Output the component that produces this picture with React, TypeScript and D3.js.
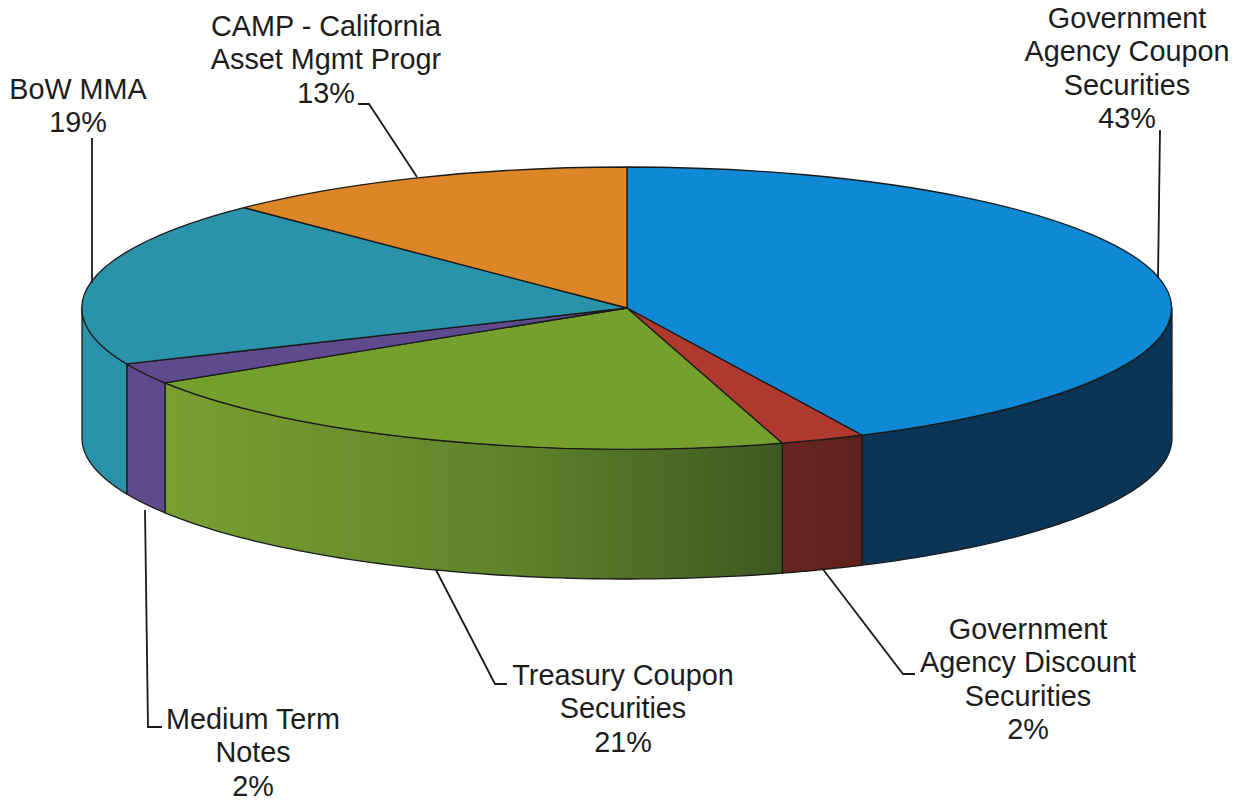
import React from "react";
import * as d3 from "d3";

const categories = [
  "Government Agency Coupon Securities",
  "Government Agency Discount Securities",
  "Treasury Coupon Securities",
  "Medium Term Notes",
  "BoW MMA",
  "CAMP - California Asset Mgmt Progr",
];
const shares = [42.9, 2.5, 20.7, 2.4, 19.1, 12.4];
const topColors = ["#1089d5", "#b03a30", "#76a02e", "#5e4a8c", "#2a93a9", "#dd8628"];
const wallFrom = ["#0b3556", "#67241f", "#7a9f30", "#5e4a8c", "#2a93a9", "#dd8628"];
const wallMid = ["#0b3556", "#63231e", "#5f842b", "#5e4a8c", "#2a93a9", "#dd8628"];
const wallTo = ["#0b3556", "#5f211d", "#3c5a20", "#5e4a8c", "#2a93a9", "#dd8628"];

const labelLines = [
  ["Government", "Agency Coupon", "Securities", "43%"],
  ["Government", "Agency Discount", "Securities", "2%"],
  ["Treasury Coupon", "Securities", "21%"],
  ["Medium Term", "Notes", "2%"],
  ["BoW MMA", "19%"],
  ["CAMP - California", "Asset Mgmt Progr", "13%"],
];
const labelCenterX = [1127, 1028, 623, 253, 78, 326];
const labelFirstBaseline = [28, 639, 685, 729, 99, 36];
const leaders: [number, number][][] = [
  [[1160, 130], [1158, 278]],
  [[822, 568], [903, 674], [915, 674]],
  [[436, 570], [495, 684], [507, 684]],
  [[145, 510], [148, 727], [162, 727]],
  [[92, 138], [92, 283]],
  [[358, 104], [369, 104], [417, 177]],
];

const W = 1240, H = 801;
const cx = 627, cy = 308, rx = 545, ry = 141, depth = 130;
const lineStep = 33.4;

const pie = d3.pie<number>().sort(null).value((d) => d);
const arcs = pie(shares);
const xS = d3.scaleLinear().domain([-1, 1]).range([cx - rx, cx + rx]);
const yS = d3.scaleLinear().domain([-1, 1]).range([cy - ry, cy + ry]);
const unitArc = d3.arc<d3.PieArcDatum<number>>().innerRadius(0).outerRadius(1);
const px = (t: number) => xS(Math.sin(t));
const py = (t: number) => yS(-Math.cos(t));
const line = d3.line();

function wall(a0: number, a1: number): string | null {
  const s = Math.max(a0, Math.PI / 2);
  const e = Math.min(a1, (3 * Math.PI) / 2);
  if (e <= s) return null;
  const ts = d3.range(0, 61).map((i) => s + ((e - s) * i) / 60);
  const topPts = ts.map((t) => [px(t), py(t)] as [number, number]);
  const botPts = ts.map((t) => [px(t), py(t) + depth] as [number, number]).reverse();
  return line([...topPts, ...botPts]) + "Z";
}

export default function App() {
  return (
    <svg
      width={W}
      height={H}
      viewBox={`0 0 ${W} ${H}`}
      style={{ position: "absolute", left: 0, top: 0, background: "#fff" }}
    >
      <defs>
        {arcs.map((d, i) => (
          <linearGradient key={i} id={`w${i}`} gradientUnits="userSpaceOnUse"
            x1={px(Math.min(d.endAngle, 1.5 * Math.PI))} x2={px(Math.max(d.startAngle, Math.PI / 2))} y1={0} y2={0}>
            <stop offset="0" stopColor={wallFrom[i]} />
            <stop offset="0.55" stopColor={wallMid[i]} />
            <stop offset="1" stopColor={wallTo[i]} />
          </linearGradient>
        ))}
      </defs>
      <g stroke="#1a1a1a" strokeWidth={1.3} strokeLinejoin="round">
        {arcs.map((d, i) => {
          const p = wall(d.startAngle, d.endAngle);
          return p ? <path key={i} d={p} fill={`url(#w${i})`} aria-label={categories[i]} /> : null;
        })}
        {arcs.map((d, i) => (
          <path
            key={i}
            d={unitArc(d) as string}
            transform={`translate(${cx},${cy}) scale(${rx},${ry})`}
            fill={topColors[i]}
            vectorEffect="non-scaling-stroke"
          />
        ))}
      </g>
      <g fill="none" stroke="#1a1a1a" strokeWidth={1.8}>
        {leaders.map((l, i) => (
          <path key={i} d={line(l) as string} />
        ))}
      </g>
      <g fontFamily="Liberation Sans, Arial, sans-serif" fontSize={28.8} fill="#1c1c1c" textAnchor="middle">
        {labelLines.map((lines, i) => (
          <text key={i} x={labelCenterX[i]} y={labelFirstBaseline[i]}>
            {lines.map((s, j) => (
              <tspan key={j} x={labelCenterX[i]} y={labelFirstBaseline[i] + j * lineStep}>{s}</tspan>
            ))}
          </text>
        ))}
      </g>
    </svg>
  );
}
